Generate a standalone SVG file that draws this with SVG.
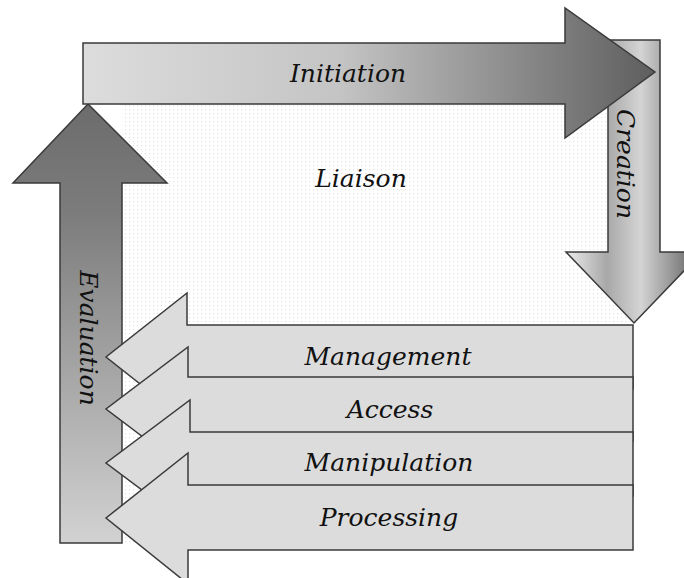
<svg xmlns="http://www.w3.org/2000/svg" width="684" height="578" viewBox="0 0 684 578">
<defs>
  <pattern id="dots" width="4" height="4" patternUnits="userSpaceOnUse">
    <rect width="4" height="4" fill="#ffffff"/>
    <rect x="1" y="1" width="1.2" height="1.2" fill="#e2e2e2"/>
  </pattern>
  <linearGradient id="gInit" gradientUnits="userSpaceOnUse" x1="83" y1="0" x2="655" y2="0">
    <stop offset="0" stop-color="#dcdcdc"/>
    <stop offset="0.45" stop-color="#c4c4c4"/>
    <stop offset="1" stop-color="#5e5e5e"/>
  </linearGradient>
  <linearGradient id="gEval" gradientUnits="userSpaceOnUse" x1="0" y1="104" x2="0" y2="543">
    <stop offset="0" stop-color="#6c6c6c"/>
    <stop offset="0.25" stop-color="#7c7c7c"/>
    <stop offset="1" stop-color="#d2d2d2"/>
  </linearGradient>
  <linearGradient id="gCre" gradientUnits="userSpaceOnUse" x1="566" y1="0" x2="702" y2="0">
    <stop offset="0" stop-color="#ececec"/>
    <stop offset="0.3" stop-color="#a8a8a8"/>
    <stop offset="0.55" stop-color="#d4d4d4"/>
    <stop offset="1" stop-color="#5a5a5a"/>
  </linearGradient>
</defs>
<style>
  .lbl { font-family: "DejaVu Serif", "Liberation Serif", serif; font-style: italic; font-size: 25px; fill: #111; text-anchor: middle; }
  .arr { stroke: #3a3a3a; stroke-width: 1.5; stroke-linejoin: miter; }
  .band { fill: #dcdcdc; }
</style>

<g id="liaison">
  <rect x="122" y="104" width="511" height="440" fill="url(#dots)"/>
  <text class="lbl" x="361" y="187">Liaison</text>
</g>

<g id="evaluation">
  <polygon class="arr" fill="url(#gEval)" points="88,104 167,183 122,183 122,543 60,543 60,183 13,183"/>
  <text class="lbl" transform="translate(80,338) rotate(90)" x="0" y="0">Evaluation</text>
</g>

<g id="creation">
  <polygon class="arr" fill="url(#gCre)" points="608,40 660,40 660,252 702,252 634,323 566,252 608,252"/>
  <text class="lbl" transform="translate(617,164) rotate(90)" x="0" y="0">Creation</text>
</g>

<g id="initiation">
  <polygon class="arr" fill="url(#gInit)" points="83,43 565,43 565,8 655,72 565,138 565,104 83,104"/>
  <text class="lbl" x="348" y="82">Initiation</text>
</g>

<g id="management">
  <polygon class="arr band" points="633,325 633,389 187,389 187,421 106,357 187,293 187,325"/>
  <text class="lbl" x="388" y="365">Management</text>
</g>

<g id="access">
  <polygon class="arr band" points="633,377 633,441 188,441 188,471 106,409 188,347 188,377"/>
  <text class="lbl" x="390" y="418">Access</text>
</g>

<g id="manipulation">
  <polygon class="arr band" points="633,432 633,496 190,496 190,526 106,463 190,400 190,432"/>
  <text class="lbl" x="389" y="471">Manipulation</text>
</g>

<g id="processing">
  <polygon class="arr band" points="633,485 633,550 188,550 188,584 106,518 188,453 188,485"/>
  <text class="lbl" x="389" y="526">Processing</text>
</g>

<g id="connectors"></g>
</svg>
